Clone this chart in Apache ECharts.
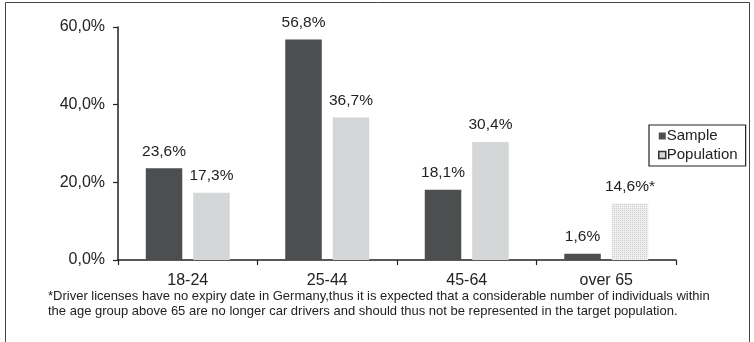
<!DOCTYPE html>
<html>
<head>
<meta charset="utf-8">
<script src="https://cdn.jsdelivr.net/npm/echarts@6/dist/echarts.min.js"></script>
<style>
  html, body { margin: 0; padding: 0; background: #fff; }
  #chart { width: 754px; height: 342px; }
</style>
</head>
<body>
<div id="chart"></div>
<script>
// Age groups and shares (percent)
const categories = ['18-24', '25-44', '45-64', 'over 65'];
const sampleValues = [23.6, 56.8, 18.1, 1.6];
const populationValues = [17.3, 36.7, 30.4, 14.6];
const yTicks = [0, 20, 40, 60];
const footnote = '*Driver licenses have no expiry date in Germany,thus it is expected that a considerable number of individuals within\nthe age group above 65 are no longer car drivers and should thus not be represented in the target population.';

const FONT = '"Liberation Sans", Arial, sans-serif';
const fmt = v => v.toFixed(1).replace('.', ',') + '%';

const chart = echarts.init(document.getElementById('chart'));

// Population values; the last group gets a dotted fill and an asterisk
const populationData = populationValues.map((v, i) => {
  if (categories[i] === 'over 65') {
    return {
      value: v,
      itemStyle: {
        color: '#f0f0f0',
        decal: {
          symbol: 'rect',
          symbolSize: 1,
          dashArrayX: [1, 1],
          dashArrayY: [1, 1],
          color: 'rgba(120,120,120,0.3)',
          rotation: 0
        }
      },
      label: { formatter: p => fmt(p.value) + '*' }
    };
  }
  return v;
});

const valueLabel = {
  show: true, position: 'top', distance: 9,
  fontFamily: FONT, fontSize: 15.5, color: '#222',
  formatter: p => fmt(p.value)
};

chart.setOption({
  animation: false,
  backgroundColor: '#fff',
  textStyle: { fontFamily: FONT },
  grid: { left: 118, right: 78, top: 27, bottom: 82 },
  legend: {
    orient: 'vertical',
    left: 649,
    top: 125,
    padding: [3, 8, 3, 9],
    borderColor: '#222',
    borderWidth: 1.2,
    itemWidth: 7,
    itemHeight: 7,
    itemGap: 3,
    icon: 'rect',
    textStyle: { fontFamily: FONT, fontSize: 15, lineHeight: 16, color: '#222', padding: [0, 0, 0, -4] },
    data: [
      { name: 'Sample' },
      { name: 'Population', itemStyle: { color: '#d5d6d8', borderColor: '#333', borderWidth: 1.5 } }
    ]
  },
  xAxis: {
    type: 'category',
    data: categories,
    axisLine: { lineStyle: { color: '#222', width: 1.5 } },
    axisTick: { show: true, length: 5, lineStyle: { color: '#222', width: 1.2 } },
    axisLabel: { fontFamily: FONT, fontSize: 16, color: '#222', margin: 13 }
  },
  yAxis: {
    type: 'value',
    min: yTicks[0],
    max: yTicks[yTicks.length - 1],
    interval: 20,
    splitLine: { show: false },
    axisLine: { show: true, lineStyle: { color: '#222', width: 1.5 } },
    axisTick: { show: true, length: 5, lineStyle: { color: '#222', width: 1.2 } },
    axisLabel: { fontFamily: FONT, fontSize: 16, color: '#222', margin: 13, formatter: v => fmt(v) }
  },
  series: [
    {
      name: 'Sample',
      type: 'bar',
      data: sampleValues,
      barWidth: 36.5,
      barGap: '30%',
      itemStyle: { color: '#4d4e50' },
      label: valueLabel
    },
    {
      name: 'Population',
      type: 'bar',
      data: populationData,
      barWidth: 36.5,
      itemStyle: { color: '#d5d6d8' },
      label: valueLabel
    }
  ],
  graphic: [
    {
      type: 'rect',
      shape: { x: 5.5, y: 2.5, width: 744, height: 345 },
      style: { fill: 'none', stroke: '#444', lineWidth: 1 },
      silent: true
    },
    {
      type: 'text',
      left: 48,
      top: 289,
      style: { text: footnote, fontFamily: FONT, fontSize: 13, lineHeight: 15, fill: '#222' }
    }
  ]
});
</script>
</body>
</html>
